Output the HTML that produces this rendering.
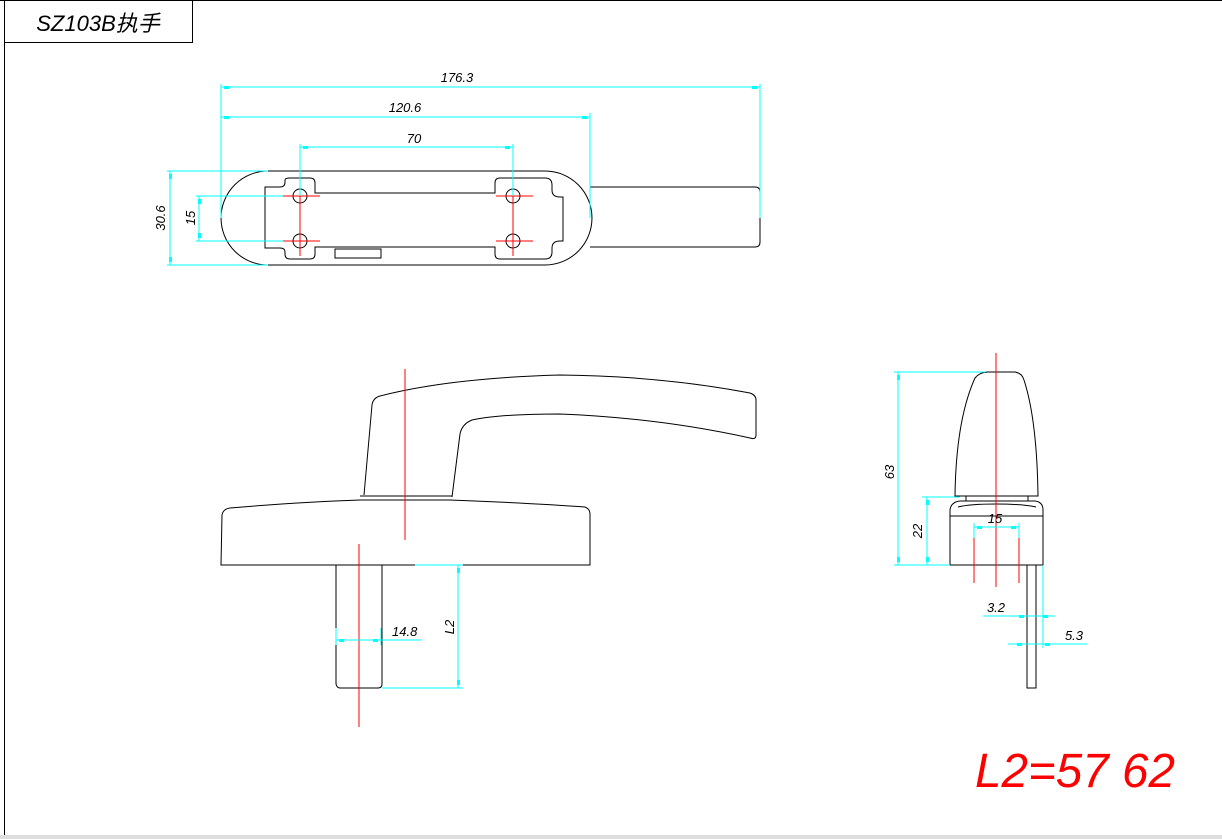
<!DOCTYPE html>
<html><head><meta charset="utf-8"><style>
html,body{margin:0;padding:0;background:#fff;width:1222px;height:839px;overflow:hidden}
svg{display:block}
text{font-family:"Liberation Sans","Noto Sans CJK SC",sans-serif;font-style:italic}
</style></head><body>
<svg width="1222" height="839" viewBox="0 0 1222 839">
<g fill="none" stroke="#000" stroke-width="1">
<line x1="4.5" y1="0" x2="4.5" y2="836"/>
<line x1="0" y1="0.5" x2="1222" y2="0.5"/>
<rect x="4.5" y="0.5" width="188" height="42"/>
</g>
<text x="98" y="31" font-size="22" text-anchor="middle" fill="#000" font-weight="normal">SZ103B执手</text>
<rect x="0" y="835" width="1222" height="4" fill="#ddd"/>

<!-- TOP VIEW -->
<g fill="none" stroke="#000" stroke-width="1">
<path d="M268 171 L545 171 A47 47 0 0 1 545 265 L268 265 A47 47 0 0 1 268 171 Z"/>
<path d="M590 187 L755 187 Q760 187 760 192 L760 242 Q760 247 755 247 L590 247"/>
<path d="M265 187 L280 187 Q285 187 285 182 L285 180 Q285 178 290 178 L310 178 Q315 178 315 183 L315 193 L495 193 L495 183 Q495 178 500 178 L545 178 Q552 178 552 185 L552 190 Q552 197 560 197 L563 197 L563 241 L560 241 Q552 241 552 248 L552 252 Q552 259 545 259 L500 259 Q495 259 495 254 L495 247 L315 247 L315 254 Q315 259 310 259 L290 259 Q285 259 285 254 L285 252 Q285 248 280 248 L265 248 Z"/>
<rect x="335" y="249" width="46" height="9"/>
<circle cx="300" cy="196" r="7"/><circle cx="300" cy="241" r="7"/>
<circle cx="513" cy="196" r="7"/><circle cx="513" cy="241" r="7"/>
</g>
<g stroke="#f00" stroke-width="1">
<line x1="283" y1="196" x2="320" y2="196"/><line x1="283" y1="241" x2="320" y2="241"/>
<line x1="496" y1="196" x2="533" y2="196"/><line x1="496" y1="241" x2="533" y2="241"/>
<line x1="300" y1="185" x2="300" y2="256"/><line x1="513" y1="185" x2="513" y2="256"/>
</g>
<g stroke="#0ff" stroke-width="1" fill="none">
<line x1="221" y1="87" x2="760" y2="87"/><line x1="221" y1="84" x2="221" y2="218"/><line x1="760" y1="84" x2="760" y2="218"/>
<line x1="221" y1="117" x2="590" y2="117"/><line x1="590" y1="113" x2="590" y2="218"/>
<line x1="300" y1="147" x2="513" y2="147"/><line x1="300" y1="144" x2="300" y2="196"/><line x1="513" y1="144" x2="513" y2="196"/>
<line x1="170" y1="171" x2="170" y2="265"/><line x1="167" y1="171" x2="268" y2="171"/><line x1="167" y1="265" x2="268" y2="265"/>
<line x1="199" y1="196" x2="199" y2="241"/><line x1="196" y1="196" x2="283" y2="196"/><line x1="196" y1="241" x2="283" y2="241"/>
</g>
<g fill="#0ff">
<rect x="224" y="86" width="5" height="3"/><rect x="752" y="86" width="5" height="3"/>
<rect x="224" y="116" width="5" height="3"/><rect x="582" y="116" width="5" height="3"/>
<rect x="303" y="146" width="5" height="3"/><rect x="505" y="146" width="5" height="3"/>
<rect x="169" y="174" width="3" height="5"/><rect x="169" y="257" width="3" height="5"/>
<rect x="198" y="199" width="3" height="5"/><rect x="198" y="233" width="3" height="5"/>
</g>
<g font-size="13" fill="#000">
<text x="457" y="82" text-anchor="middle">176.3</text>
<text x="405" y="112" text-anchor="middle">120.6</text>
<text x="414" y="143" text-anchor="middle">70</text>
<text transform="translate(165 218) rotate(-90)" text-anchor="middle">30.6</text>
<text transform="translate(195 218) rotate(-90)" text-anchor="middle">15</text>
</g>

<!-- SIDE VIEW -->
<g fill="none" stroke="#000" stroke-width="1">
<path d="M364 495 L372 405 Q373 398 380 396 Q450 378 560 375 Q660 376 750 393 Q756 395 756 400 L756 435 Q756 440 750 438 Q660 418 560 414 Q500 414 472 420 Q462 424 460 434 L452 497"/>
<path d="M360 496 L452 496"/>
<path d="M221 565 L222 515 Q223 509 230 508 Q300 502 360 500 L450 500 Q530 503 585 507 Q590 509 590 514 L590 565 Z"/>
<path d="M336 565 L336 684 Q337 688 340 688 L378 688 Q382 688 382 684 L382 565"/>
</g>
<g stroke="#f00" stroke-width="1">
<line x1="405" y1="369" x2="405" y2="540"/>
<line x1="359" y1="544" x2="359" y2="727"/>
</g>
<g stroke="#0ff" stroke-width="1">
<line x1="458" y1="565" x2="458" y2="688"/>
<line x1="415" y1="565" x2="463" y2="565"/>
<line x1="382" y1="688" x2="463" y2="688"/>
<line x1="336" y1="640" x2="422" y2="640"/>
<line x1="336" y1="628" x2="336" y2="645"/><line x1="381" y1="628" x2="381" y2="645"/>
</g>
<g fill="#0ff">
<rect x="457" y="568" width="3" height="5"/><rect x="457" y="680" width="3" height="5"/>
<rect x="339" y="639" width="5" height="3"/><rect x="373" y="639" width="5" height="3"/>
</g>
<g font-size="13" fill="#000">
<text x="392" y="636">14.8</text>
<text transform="translate(454 627) rotate(-90)" text-anchor="middle">L2</text>
</g>

<!-- FRONT VIEW -->
<g fill="none" stroke="#000" stroke-width="1">
<path d="M955 496 Q956 420 975 378 Q980 372 988 372 L1015 372 Q1022 373 1024 380 Q1037 420 1038 496 Z"/>
<path d="M966 496 L966 501 M1028 496 L1028 501"/>
<path d="M950 565 L950 510 Q951 502 960 501 L1035 501 Q1043 502 1043 510 L1043 565 Z"/>
<line x1="950" y1="516" x2="1043" y2="516"/>
<path d="M958 507 Q970 504 996 504 Q1022 504 1036 507"/>
<path d="M1027 565 L1027 688 L1036 688 L1036 565"/>
</g>
<g stroke="#f00" stroke-width="1">
<line x1="996" y1="353" x2="996" y2="587"/>
<line x1="974" y1="538" x2="974" y2="583"/>
<line x1="1019" y1="538" x2="1019" y2="583"/>
</g>
<g stroke="#0ff" stroke-width="1">
<line x1="898" y1="372" x2="898" y2="565"/>
<line x1="894" y1="372" x2="985" y2="372"/>
<line x1="894" y1="565" x2="950" y2="565"/>
<line x1="927" y1="497" x2="927" y2="565"/>
<line x1="922" y1="497" x2="960" y2="497"/>
<line x1="974" y1="527" x2="1019" y2="527"/>
<line x1="974" y1="523" x2="974" y2="538"/><line x1="1019" y1="523" x2="1019" y2="538"/>
<line x1="983" y1="616" x2="1055" y2="616"/>
<line x1="1008" y1="644" x2="1087" y2="644"/>
<line x1="1043" y1="565" x2="1043" y2="648"/>
</g>
<g fill="#0ff">
<rect x="897" y="375" width="3" height="5"/><rect x="897" y="557" width="3" height="5"/>
<rect x="926" y="500" width="3" height="5"/><rect x="926" y="557" width="3" height="5"/>
<rect x="977" y="526" width="5" height="3"/><rect x="1011" y="526" width="5" height="3"/>
<rect x="1019" y="615" width="5" height="3"/><rect x="1043" y="615" width="5" height="3"/>
<rect x="1017" y="643" width="5" height="3"/><rect x="1045" y="643" width="5" height="3"/>
</g>
<g font-size="13" fill="#000">
<text transform="translate(894 472) rotate(-90)" text-anchor="middle">63</text>
<text transform="translate(922 531) rotate(-90)" text-anchor="middle">22</text>
<text x="995" y="523" text-anchor="middle">15</text>
<text x="996" y="612" text-anchor="middle">3.2</text>
<text x="1074" y="640" text-anchor="middle">5.3</text>
</g>

<text x="975" y="787" font-size="48" fill="#f00" textLength="200" lengthAdjust="spacingAndGlyphs">L2=57 62</text>
</svg>
</body></html>
